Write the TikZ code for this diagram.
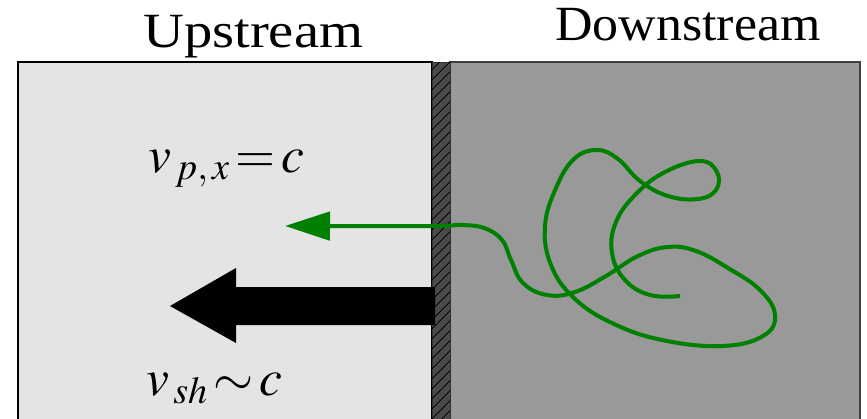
\documentclass[tikz,border=0pt]{standalone}
\usepackage{mathptmx}
\usepackage{fontspec}
\setmainfont{Liberation Serif}
\usetikzlibrary{arrows.meta,patterns.meta}
\definecolor{upgray}{HTML}{E4E4E4}
\definecolor{downgray}{HTML}{999999}
\definecolor{wallgray}{HTML}{4A4A4A}
\definecolor{pathgreen}{HTML}{008000}
\tikzset{
upbox/.style={
draw=black,
line width=1.2pt,
fill=upgray
},
downbox/.style={
draw=black!75,
line width=1.2pt,
fill=downgray
},
wall/.style={
draw=black!80,
line width=0.8pt,
fill=wallgray,
postaction={pattern={Lines[angle=45,distance=6.5pt,line width=0.8pt]},pattern color=black}
},
title/.style={
anchor=base west,
inner sep=0pt,
font=\fontsize{42}{48}\selectfont
},
eqn/.style={
anchor=base west,
inner sep=0pt,
font=\fontsize{44}{50}\selectfont
},
trail/.style={
draw=pathgreen,
line width=0.12cm,
-{Triangle[length=1.35cm,width=0.85cm]}
}
}

\begin{document}
\begin{tikzpicture}[x=0.03cm,y=-0.03cm]
\clip (0,0) rectangle (867,418);
\fill[white] (0,0) rectangle (867,418);

% the two regions and the shock
\draw[upbox] (18,62) rectangle (432,440);
\draw[downbox] (450,62) rectangle (860,440);
\draw[wall] (432,62) rectangle (450,440);

\node[title](up) at (143,47) {\scalebox{1.15}[1]{Upstream}};
\node[title](down) at (555,40) {\scalebox{1.055}[1]{Downstream}};

% particle path
\coordinate (tip) at (285,226);
\draw[trail] plot[smooth,tension=0.7] coordinates {
(680,296) (650,295) (625,280) (612,253) (616,222) (636,194) (665,172)
(700,161) (717,172) (716,190) (698,199) (668,196) (640,181) (618,159)
(597,150) (574,159) (556,188) (545,226) (551,265) (574,298) (612,323)
(662,340) (722,346) (763,336) (775,315) (760,290) (728,268) (696,251)
(668,247) (638,256) (606,276) (575,292) (547,295) (523,283) (511,260)
(502,240) (484,228) (460,225) (430,226) (tip)};

% shock velocity
\fill (435,287) -- (236,287) -- (236,268) -- (170,306)
-- (236,343) -- (236,325) -- (435,325) -- cycle;

\node[eqn](vp) at (148,172) {$v_{\,p,\,x}\!=\!c$};
\node[eqn](vsh) at (146,395) {$v_{\,sh}\!\sim\! c$};
\end{tikzpicture}
\end{document}
